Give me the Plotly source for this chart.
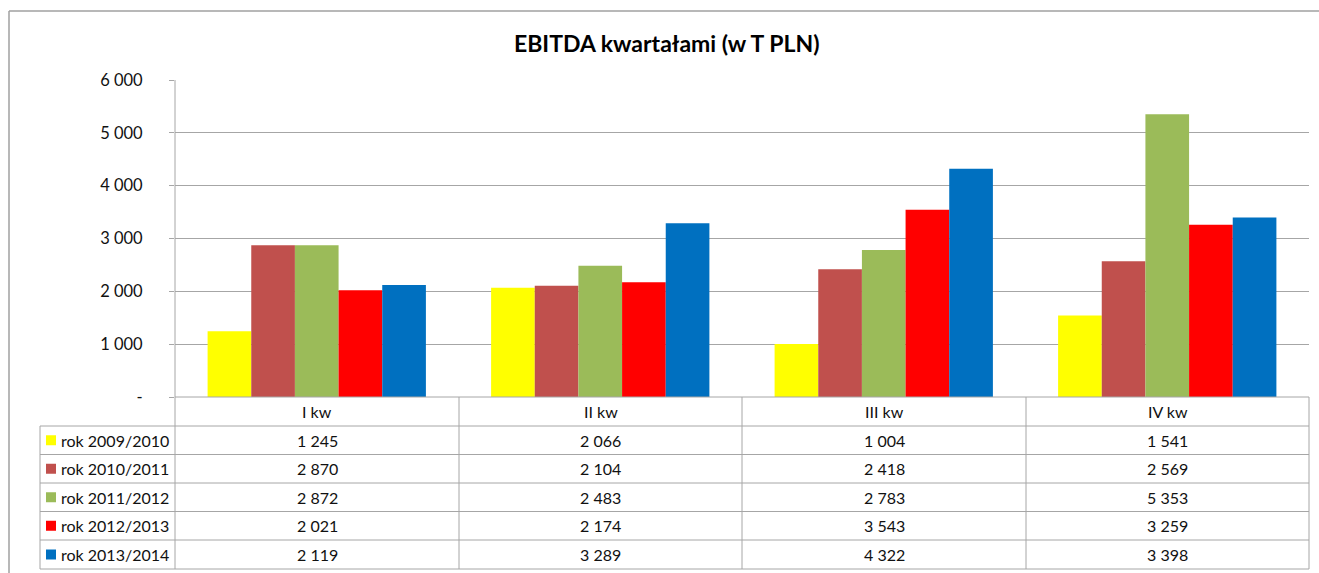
import plotly.graph_objects as go

quarters = ["I kw", "II kw", "III kw", "IV kw"]
series_names = ["rok 2009/2010", "rok 2010/2011", "rok 2011/2012", "rok 2012/2013", "rok 2013/2014"]
v_2009 = [1245, 2066, 1004, 1541]
v_2010 = [2870, 2104, 2418, 2569]
v_2011 = [2872, 2483, 2783, 5353]
v_2012 = [2021, 2174, 3543, 3259]
v_2013 = [2119, 3289, 4322, 3398]
series_values = [v_2009, v_2010, v_2011, v_2012, v_2013]
colors = ["#FFFF00", "#C0504D", "#9BBB59", "#FF0000", "#0070C0"]
y_tickvals = [0, 1000, 2000, 3000, 4000, 5000, 6000]
y_ticktext = ["-", "1 000", "2 000", "3 000", "4 000", "5 000", "6 000"]
title = "EBITDA kwartałami (w T PLN)"

W, H = 1319, 573
FONT = "Lato, 'Open Sans', sans-serif"
GRID = "#A6A6A6"


def px(x):
    return x / W


def py(y):
    return 1 - y / H


def fmt(v):
    return f"{v:,}".replace(",", " ")


fig = go.Figure()
for name, vals, col in zip(series_names, series_values, colors):
    fig.add_trace(go.Bar(x=quarters, y=vals, name=name, marker=dict(color=col, line=dict(width=0)),
                         showlegend=False, hoverinfo="skip"))

plot_l, plot_r, plot_t, plot_b = 175, 1309, 80, 397
fig.update_layout(
    width=W, height=H, autosize=False,
    margin=dict(l=0, r=0, t=0, b=0, pad=0, autoexpand=False),
    paper_bgcolor="white", plot_bgcolor="white",
    barmode="group", bargap=0.23, bargroupgap=0,
    xaxis=dict(domain=[px(plot_l), px(plot_r)], showticklabels=False, showgrid=False,
               zeroline=False, showline=False, ticks="", fixedrange=True, automargin=False),
    yaxis=dict(domain=[py(plot_b), py(plot_t)], range=[0, 6000], tickvals=y_tickvals,
               ticktext=y_ticktext, showgrid=True, gridcolor=GRID, gridwidth=1,
               zeroline=False, showline=False, ticks="outside", ticklen=5, tickcolor=GRID,
               ticklabelstandoff=23, tickfont=dict(family=FONT, size=16.5, color="#111"),
               fixedrange=True, automargin=False),
    font=dict(family=FONT),
)

shapes = []
line = dict(color=GRID, width=1)
# outer chart border
shapes.append(dict(type="line", xref="paper", yref="paper", x0=px(9), x1=px(1319), y0=py(11), y1=py(11),
                   line=dict(color="#A0A0A0", width=1.5)))
shapes.append(dict(type="line", xref="paper", yref="paper", x0=px(9), x1=px(9), y0=py(11), y1=py(573),
                   line=dict(color="#A0A0A0", width=1.5)))
# vertical axis line through plot and table
shapes.append(dict(type="line", xref="paper", yref="paper", x0=px(plot_l), x1=px(plot_l), y0=py(plot_t),
                   y1=py(569), line=line))

# table geometry
col_edges = [175, 459, 742, 1026, 1309]
row_edges = [397, 426, 454.5, 483, 511.5, 540, 569]
left_col = 40
for i, yv in enumerate(row_edges):
    x0 = plot_l if i == 0 else left_col
    shapes.append(dict(type="line", xref="paper", yref="paper", x0=px(x0), x1=px(col_edges[-1]),
                       y0=py(yv), y1=py(yv), line=line))
for xv in col_edges[1:]:
    shapes.append(dict(type="line", xref="paper", yref="paper", x0=px(xv), x1=px(xv),
                       y0=py(row_edges[0]), y1=py(row_edges[-1]), line=line))
shapes.append(dict(type="line", xref="paper", yref="paper", x0=px(left_col), x1=px(left_col),
                   y0=py(row_edges[1]), y1=py(row_edges[-1]), line=line))

annotations = []
TXT = dict(family=FONT, size=16, color="#111")
for j, q in enumerate(quarters):
    cx = (col_edges[j] + col_edges[j + 1]) / 2
    cy = (row_edges[0] + row_edges[1]) / 2
    annotations.append(dict(x=px(cx), y=py(cy), xref="paper", yref="paper", text=q, showarrow=False,
                            font=TXT, xanchor="center", yanchor="middle"))
for i, (name, vals, col) in enumerate(zip(series_names, series_values, colors)):
    cy = (row_edges[i + 1] + row_edges[i + 2]) / 2
    shapes.append(dict(type="rect", xref="paper", yref="paper", x0=px(46), x1=px(56),
                       y0=py(cy - 5), y1=py(cy + 5), fillcolor=col, line=dict(width=0)))
    annotations.append(dict(x=px(59), y=py(cy), xref="paper", yref="paper", text=name, showarrow=False,
                            font=TXT, xanchor="left", yanchor="middle"))
    for j, v in enumerate(vals):
        cx = (col_edges[j] + col_edges[j + 1]) / 2
        annotations.append(dict(x=px(cx), y=py(cy), xref="paper", yref="paper", text=fmt(v),
                                showarrow=False, font=TXT, xanchor="center", yanchor="middle"))

annotations.append(dict(x=px(667), y=py(43), xref="paper", yref="paper", text="<b>" + title + "</b>",
                        showarrow=False, font=dict(family=FONT, size=23, color="#000"),
                        xanchor="center", yanchor="middle"))

fig.update_layout(shapes=shapes, annotations=annotations)
post = (
    "document.documentElement.style.margin='0';document.documentElement.style.padding='0';"
    "document.documentElement.style.overflow='hidden';"
    "document.body.style.margin='0';document.body.style.padding='0';document.body.style.overflow='hidden';"
)
fig.write_html("out.html", config={"displayModeBar": False}, post_script=post)
